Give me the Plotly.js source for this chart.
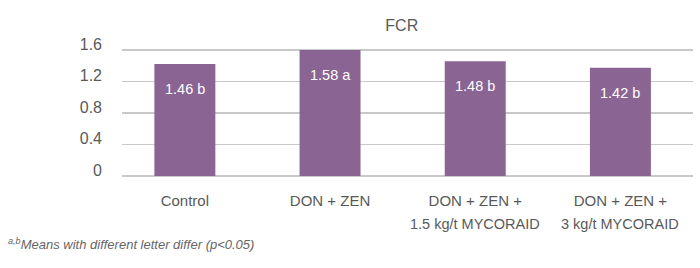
<!DOCTYPE html>
<html>
<head>
<meta charset="utf-8">
<script src="https://cdn.plot.ly/plotly-3.0.1.min.js"></script>
<style>
  html, body { margin: 0; padding: 0; background: #fff; }
  #chart { width: 700px; height: 268px; }
</style>
</head>
<body>
<div id="chart"></div>
<script>
// Data
const categories = [
  'Control',
  'DON + ZEN',
  'DON + ZEN +<br>1.5 kg/t MYCORAID',
  'DON + ZEN +<br>3 kg/t MYCORAID'
];
// bar heights as drawn against the axis
const barHeights = [1.42, 1.60, 1.455, 1.375];
// printed value labels
const valueLabels = ['1.46 b', '1.58 a', '1.48 b', '1.42 b'];
const yTicks = [0, 0.4, 0.8, 1.2, 1.6];
const yTickText = ['0', '0.4', '0.8', '1.2', '1.6'];

const FONT = '"Liberation Sans", Arial, sans-serif';
const TEXT = '#595959';
const BAR = '#8a6492';
const GRID = '#c8c8c8';

const idx = categories.map((c, i) => i);
const line1 = categories.map(c => c.split('<br>')[0]);
const line2 = categories.map(c => c.split('<br>')[1] || '');

const trace = {
  type: 'bar',
  x: idx,
  y: barHeights,
  width: 0.42,
  marker: { color: BAR, line: { width: 0 } },
  hoverinfo: 'skip'
};

const annotations = barHeights.map((v, i) => ({
  x: i, y: v, xref: 'x', yref: 'y',
  text: valueLabels[i],
  showarrow: false,
  yshift: -25,
  font: { family: FONT, size: 14.5, color: '#ffffff' }
}));

line2.forEach((t, i) => {
  if (!t) return;
  annotations.push({
    x: i, y: 0, xref: 'x', yref: 'y',
    yanchor: 'top',
    text: t,
    showarrow: false,
    yshift: -38,
    font: { family: FONT, size: 14.5, color: TEXT }
  });
});

annotations.push({
  xref: 'paper', yref: 'paper',
  x: -0.2031, y: -0.52,
  xanchor: 'left', yanchor: 'middle',
  showarrow: false,
  text: '<i><sup>a,b</sup>Means with different letter differ (p<0.05)</i>',
  font: { family: FONT, size: 13, color: '#666666' }
});

const layout = {
  width: 700, height: 268,
  margin: { l: 122, r: 7, t: 46, b: 92 },
  paper_bgcolor: '#ffffff',
  plot_bgcolor: '#ffffff',
  showlegend: false,
  title: {
    text: 'FCR',
    x: 0.574, xanchor: 'center', xref: 'container',
    y: 0.907, yanchor: 'middle', yref: 'container',
    font: { family: FONT, size: 16, color: TEXT }
  },
  xaxis: {
    range: [-0.433, 3.5],
    tickmode: 'array',
    tickvals: idx,
    ticktext: line1,
    tickangle: 0,
    showgrid: false, zeroline: false, showline: false,
    ticks: '',
    ticklabelstandoff: 14,
    tickfont: { family: FONT, size: 15, color: TEXT },
    fixedrange: true
  },
  yaxis: {
    range: [0, 1.65],
    tickmode: 'array',
    tickvals: yTicks,
    ticktext: yTickText,
    showgrid: true, gridcolor: GRID, gridwidth: 1.5,
    zeroline: true, zerolinecolor: GRID, zerolinewidth: 1.5,
    showline: false, ticks: '',
    ticklabelstandoff: 19,
    ticklabelshift: -6,
    tickfont: { family: FONT, size: 16, color: TEXT },
    fixedrange: true
  },
  annotations: annotations
};

Plotly.newPlot('chart', [trace], layout, { staticPlot: true, displayModeBar: false });
</script>
</body>
</html>
